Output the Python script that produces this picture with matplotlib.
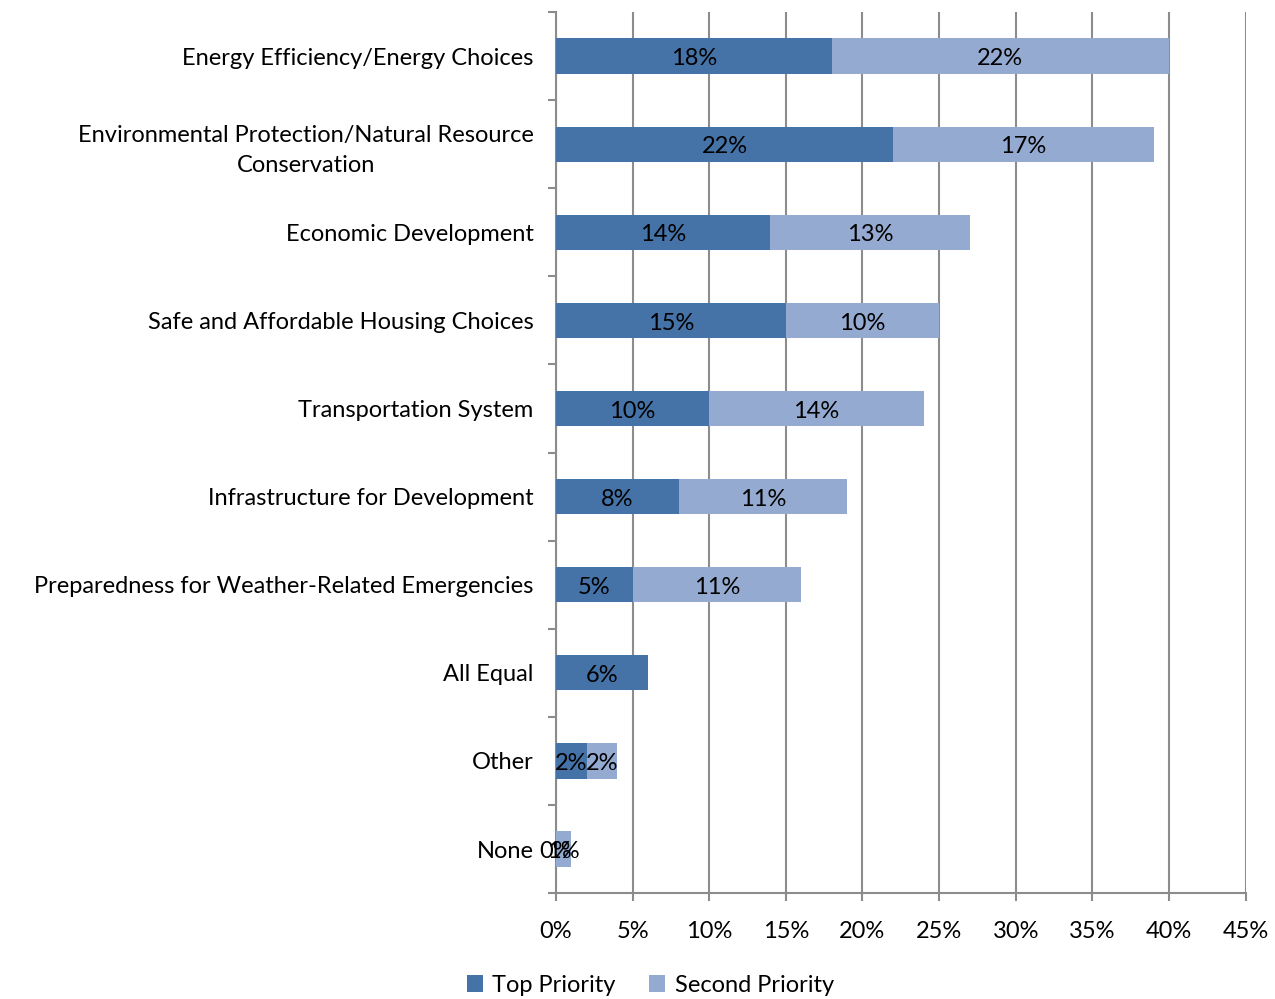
import matplotlib
matplotlib.use('Agg')
import matplotlib.pyplot as plt
import numpy as np

plt.rcParams['font.family'] = ['Lato', 'DejaVu Sans']
plt.rcParams['font.size'] = 17

categories = ['Energy Efficiency/Energy Choices',
              'Environmental Protection/Natural Resource\nConservation',
              'Economic Development',
              'Safe and Affordable Housing Choices',
              'Transportation System',
              'Infrastructure for Development',
              'Preparedness for Weather-Related Emergencies',
              'All Equal',
              'Other',
              'None']
top_priority = [18, 22, 14, 15, 10, 8, 5, 6, 2, 0]
second_priority = [22, 17, 13, 10, 14, 11, 11, 0, 2, 1]

dark = '#4572a7'
light = '#95aad1'
grid_c = '#8c8c8c'

fig = plt.figure(figsize=(12.75, 9.99), dpi=100)
ax = fig.add_axes([0.436, 0.106, 0.541, 0.882])

y = np.arange(len(categories))
b1 = ax.barh(y, top_priority, height=0.4, color=dark, label='Top Priority', zorder=3)
b2 = ax.barh(y, second_priority, left=top_priority, height=0.4, color=light,
             label='Second Priority', zorder=3)

# 数据标签 (All Equal 没有第二优先)
for i in range(len(categories)):
    t = top_priority[i]
    s = second_priority[i]
    ax.text(t / 2, i + 0.03, '%d%%' % t, ha='center', va='center', zorder=4)
    if s > 0:
        ax.text(t + s / 2, i + 0.03, '%d%%' % s, ha='center', va='center', zorder=4)

ax.set_xlim(0, 45)
ax.set_ylim(len(categories) - 0.5, -0.5)
ax.set_xticks(np.arange(0, 46, 5))
ax.set_xticklabels(['%d%%' % v for v in range(0, 46, 5)])
ax.set_yticks(y)
ax.set_yticklabels(categories, ha='right', multialignment='center', linespacing=1.5)
ax.set_yticks(np.arange(-0.5, len(categories), 1), minor=True)

ax.tick_params(axis='y', which='major', length=0, pad=16)
ax.tick_params(axis='y', which='minor', length=6, width=1.5, color=grid_c, direction='out')
ax.tick_params(axis='x', length=6, width=1.5, color=grid_c, direction='out', pad=14)

ax.grid(axis='x', color=grid_c, linewidth=1.5, zorder=0)
for side in ['top', 'right']:
    ax.spines[side].set_visible(False)
for side in ['left', 'bottom']:
    ax.spines[side].set_color(grid_c)
    ax.spines[side].set_linewidth(1.5)

fig.legend(handles=[b1, b2], loc='lower center', bbox_to_anchor=(0.51, -0.018), ncol=2,
           frameon=False, handlelength=0.7, handleheight=0.7, handletextpad=0.4,
           columnspacing=1.4)

plt.savefig('out.png', dpi=100)
